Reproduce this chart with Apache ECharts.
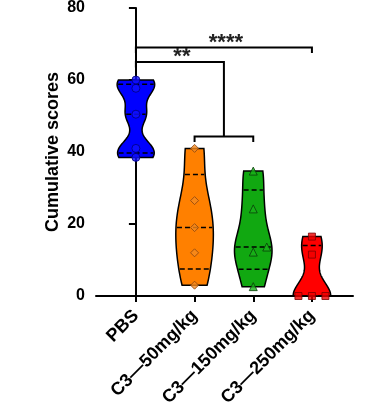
<!DOCTYPE html>
<html><head><meta charset="utf-8">
<script src="https://cdn.jsdelivr.net/npm/echarts@6/dist/echarts.min.js"></script>
<style>html,body{margin:0;padding:0;background:#fff}#c{width:370px;height:418px}</style>
</head><body><div id="c"></div>
<script>
// ---- data ----
const categories = ['PBS', 'C3\u201450mg/kg', 'C3\u2014150mg/kg', 'C3\u2014250mg/kg'];
const pbsValues = [38.5, 41, 50.5, 57.7, 60];
const c3_50Values = [3, 12, 19, 26.5, 41];
const c3_150Values = [2.6, 12.2, 13.6, 24.2, 34.7];
const c3_250Values = [0, 0, 0, 11.5, 16.5];
const yTicks = [0, 20, 40, 60, 80];
// significance annotations
const sigLabels = ['****', '**'];
const sigFrom = [0, 0];
const sigTo = [[3], [1, 2]];
const sigY = [69, 65];
const sigSubY = [null, 44.3];

// ---- styling ----
const groups = [pbsValues, c3_50Values, c3_150Values, c3_250Values];
const fills = ['#0000ff', '#ff8000', '#11a811', '#ff0000'];
const ptFill = ['#1010ff', '#f58a1e', '#19b019', '#f00000'];
const ptBorder = ['#00007a', '#8a4510', '#0a3f0a', '#7a0000'];
const symbols = ['circle', 'diamond', 'triangle', 'rect'];
const symSize = [8, 8, 8, 7];
const bandwidth = [3, 7, 5.5, 4];
const HALF = 0.32;
const FONT = 'Arial, "Liberation Sans", sans-serif';

function kde(vals, h, y) { let s = 0; for (const v of vals) { const z = (y - v) / h; s += Math.exp(-0.5 * z * z); } return s; }
function quantile(sorted, p) {
  const n = sorted.length; let pos = p * (n + 1);
  pos = Math.max(1, Math.min(n, pos));
  const lo = Math.floor(pos), hi = Math.ceil(pos);
  return sorted[lo - 1] + (pos - lo) * (sorted[hi - 1] - sorted[lo - 1]);
}
function maxDensity(vals, h) {
  const lo = vals[0], hi = vals[vals.length - 1]; let m = 0;
  for (let k = 0; k <= 100; k++) { const d = kde(vals, h, lo + (hi - lo) * k / 100); if (d > m) m = d; }
  return m;
}

// beeswarm offsets
function swarm(vals) {
  const placed = []; const step = 0.23, thr = 2.0;
  return vals.map(v => {
    const cands = [0, step, -step, 2 * step, -2 * step];
    let off = 0;
    for (const c of cands) {
      if (!placed.some(p => Math.abs(p[0] - c) < step * 0.9 && Math.abs(p[1] - v) < thr)) { off = c; break; }
    }
    placed.push([off, v]); return off;
  });
}

const violinSeries = {
  type: 'custom', z: 3, silent: true,
  data: categories.map((c, i) => [i]),
  renderItem: function (params, api) {
    const i = api.value(0);
    const vals = groups[i].slice().sort((a, b) => a - b);
    const lo = vals[0], hi = vals[vals.length - 1];
    const h = bandwidth[i];
    const md = maxDensity(vals, h);
    const N = 80, right = [], left = [];
    for (let k = 0; k <= N; k++) { const y = lo + (hi - lo) * k / N; right.push(api.coord([i + kde(vals, h, y) / md * HALF, y])); }
    for (let k = N; k >= 0; k--) { const y = lo + (hi - lo) * k / N; left.push(api.coord([i - kde(vals, h, y) / md * HALF, y])); }
    const children = [{ type: 'polygon', shape: { points: right.concat(left) }, style: { fill: fills[i], stroke: '#000', lineWidth: 1.5 } }];
    [0.25, 0.5, 0.75].forEach(p => {
      const q = quantile(vals, p);
      const w = kde(vals, h, q) / md * HALF;
      const a = api.coord([i - w, q]), b = api.coord([i + w, q]);
      children.push({ type: 'line', shape: { x1: a[0] + 1, y1: a[1], x2: b[0] - 1, y2: b[1] }, style: { stroke: '#000', lineWidth: 1.5, lineDash: [5, 3] } });
    });
    return { type: 'group', children };
  }
};

const pointSeries = groups.map((vals, i) => {
  const sorted = vals.slice().sort((a, b) => a - b);
  const offs = swarm(sorted);
  return {
    type: 'scatter', z: 4, silent: true, symbol: symbols[i], symbolSize: symSize[i],
    itemStyle: { color: ptFill[i], borderColor: ptBorder[i], borderWidth: 1 },
    data: sorted.map((v, k) => [i + offs[k], v])
  };
});

const bracketSeries = {
  type: 'custom', z: 5, silent: true, data: [[0]],
  renderItem: function (params, api) {
    const children = []; const st = { stroke: '#000', lineWidth: 2, fill: null };
    const drop = 1.5;
    sigLabels.forEach((lab, j) => {
      const targets = sigTo[j];
      const toX = targets.length > 1 ? (targets[0] + targets[targets.length - 1]) / 2 : targets[0];
      const y = sigY[j];
      const pA = api.coord([sigFrom[j], y - drop]), pB = api.coord([sigFrom[j], y]);
      const pC = api.coord([toX, y]);
      let pD;
      if (targets.length > 1) pD = api.coord([toX, sigSubY[j]]); else pD = api.coord([toX, y - drop]);
      children.push({ type: 'polyline', shape: { points: [pA, pB, pC, pD] }, style: st });
      if (targets.length > 1) {
        const sy = sigSubY[j];
        const q1 = api.coord([targets[0], sy - drop]), q2 = api.coord([targets[0], sy]);
        const q3 = api.coord([targets[targets.length - 1], sy]), q4 = api.coord([targets[targets.length - 1], sy - drop]);
        children.push({ type: 'polyline', shape: { points: [q1, q2, q3, q4] }, style: st });
      }
      const mid = api.coord([(sigFrom[j] + toX) / 2, y]);
      children.push({ type: 'text', x: mid[0] + 2, y: mid[1] - 5, style: { text: lab, fill: '#222', font: 'bold 22px ' + FONT, align: 'center', verticalAlign: 'middle' } });
    });
    return { type: 'group', children };
  }
};

const chart = echarts.init(document.getElementById('c'), null, { renderer: 'canvas' });
chart.setOption({
  animation: false,
  backgroundColor: '#fff',
  grid: { left: 96, right: 17, top: 8, bottom: 122, containLabel: false },
  xAxis: {
    type: 'value', min: -0.68, max: 3.7,
    splitLine: { show: false },
    axisLine: { show: true, onZero: false, lineStyle: { color: '#000', width: 2 } },
    axisTick: { show: true, customValues: [0, 1, 2, 3], length: 6, lineStyle: { color: '#000', width: 2 } },
    axisLabel: { customValues: [0, 1, 2, 3], rotate: 45, margin: 17, color: '#000', fontWeight: 'bold', fontSize: 18, fontFamily: FONT,
      formatter: v => categories[Math.round(v)] }
  },
  yAxis: {
    type: 'value', min: yTicks[0], max: yTicks[yTicks.length - 1], interval: 20,
    name: 'Cumulative scores', nameLocation: 'middle', nameGap: 34, nameRotate: 90, nameMoveOverlap: false,
    nameTextStyle: { color: '#000', fontWeight: 'bold', fontSize: 18, fontFamily: FONT },
    splitLine: { show: false },
    axisLine: { show: true, lineStyle: { color: '#000', width: 2 } },
    axisTick: { show: true, length: 7, lineStyle: { color: '#000', width: 2 } },
    axisLabel: { margin: 11, color: '#000', fontWeight: 'bold', fontSize: 16, fontFamily: FONT }
  },
  series: [violinSeries].concat(pointSeries, [bracketSeries])
});
</script></body></html>
